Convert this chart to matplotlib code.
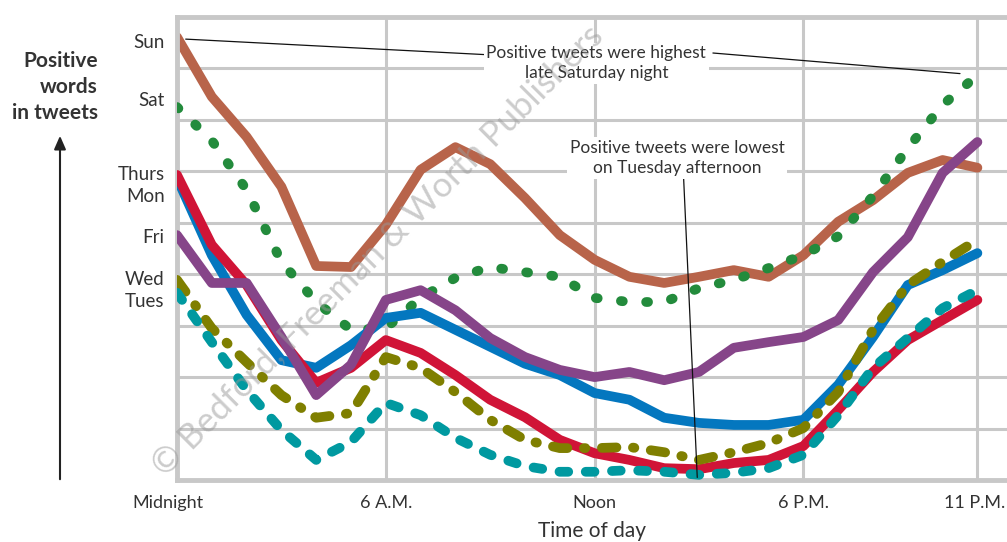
import numpy as np
import matplotlib.pyplot as plt
from matplotlib.patches import FancyArrowPatch
from matplotlib.transforms import ScaledTranslation

plt.rcParams['font.family'] = ['Lato', 'DejaVu Sans']

# hours of the day, 0 = midnight ... 23 = 11 P.M.
hours = list(range(24))

# positive-word level (grid units, 0 = bottom, 9 = top)
sun = [8.61, 7.45, 6.67, 5.70, 4.16, 4.14, 4.96, 6.03, 6.47, 6.14, 5.48, 4.76,
       4.28, 3.95, 3.83, 3.95, 4.08, 3.95, 4.37, 5.02, 5.44, 5.97, 6.22, 6.07]
sat = [7.25, 6.60, 5.64, 4.24, 3.46, 2.92, 2.95, 3.54, 3.93, 4.14, 4.04, 3.95,
       3.54, 3.46, 3.46, 3.73, 3.89, 4.12, 4.37, 4.74, 5.52, 6.45, 7.29, 7.87]
mon = [5.87, 4.37, 3.21, 2.33, 2.18, 2.62, 3.15, 3.25, 2.92, 2.59, 2.26, 2.04,
       1.69, 1.56, 1.21, 1.11, 1.07, 1.07, 1.17, 1.85, 2.78, 3.79, 4.08, 4.41]
thurs = [5.93, 4.57, 3.79, 2.72, 1.89, 2.18, 2.72, 2.47, 2.04, 1.56, 1.22, 0.78,
         0.52, 0.39, 0.23, 0.21, 0.33, 0.39, 0.66, 1.36, 2.10, 2.72, 3.11, 3.50]
fri = [4.76, 3.83, 3.83, 2.78, 1.65, 2.24, 3.50, 3.69, 3.30, 2.76, 2.39, 2.14,
       2.00, 2.10, 1.94, 2.10, 2.57, 2.68, 2.78, 3.11, 4.04, 4.72, 5.97, 6.57]
wed = [3.89, 2.95, 2.29, 1.65, 1.21, 1.30, 2.39, 2.18, 1.71, 1.17, 0.78, 0.62,
       0.62, 0.64, 0.54, 0.39, 0.54, 0.72, 1.01, 1.71, 2.92, 3.79, 4.24, 4.67]
tues = [3.64, 2.68, 1.75, 0.97, 0.39, 0.74, 1.50, 1.26, 0.82, 0.49, 0.27, 0.16,
        0.16, 0.19, 0.16, 0.10, 0.14, 0.23, 0.49, 1.26, 2.18, 2.76, 3.34, 3.69]

day_labels = ['Sun', 'Sat', 'Thurs', 'Mon', 'Fri', 'Wed', 'Tues']
day_label_pos = [8.53, 7.41, 5.97, 5.54, 4.74, 3.93, 3.50]

hour_ticks = [0, 6, 12, 18, 23]
hour_labels = ['Midnight', '6 A.M.', 'Noon', '6 P.M.', '11 P.M.']

grid_c = '#c8c8c8'
txt_c = '#333333'

fig = plt.figure(figsize=(10.07, 5.42), dpi=100)
ax = fig.add_axes([177/1007, 62/542, 830/1007, 463/542])
ax.set_xlim(0, 830/34.8)
ax.set_ylim(0, 9)

# grid
for yy in range(1, 9):
    ax.axhline(yy, color=grid_c, lw=2.2, zorder=0)
for xx in [6, 12, 18, 23]:
    ax.axvline(xx, color=grid_c, lw=2.2, zorder=0)
for s in ['left', 'top', 'bottom']:
    ax.spines[s].set_color(grid_c)
    ax.spines[s].set_linewidth(3.5)
ax.spines['right'].set_visible(False)

lw = 7
ax.plot(hours, sun, color='#b8644a', lw=lw, solid_capstyle='round', zorder=2)
ax.plot(hours, sat, color='#238b3c', lw=lw, linestyle=(0, (0.2, 2.4)),
        dash_capstyle='round', zorder=3)
ax.plot(hours, mon, color='#0477bf', lw=lw, solid_capstyle='round', zorder=4)
ax.plot(hours, thurs, color='#d01437', lw=lw, solid_capstyle='round', zorder=4)
ax.plot(hours, fri, color='#864589', lw=lw, solid_capstyle='round', zorder=5)
ax.plot(hours, wed, color='#7f7f00', lw=lw, linestyle=(0, (1.5, 1.7, 0.15, 1.7)),
        dash_capstyle='round', zorder=6)
ax.plot(hours, tues, color='#0099a0', lw=lw, linestyle=(0, (0.9, 1.8)),
        dash_capstyle='round', zorder=7)

ax.set_yticks(day_label_pos)
ax.set_yticklabels(day_labels, fontsize=13.5, color=txt_c)
ax.set_xticks(hour_ticks)
ax.set_xticklabels(hour_labels, fontsize=13, color=txt_c)
ax.tick_params(axis='x', length=0, pad=11)
ax.tick_params(axis='y', length=0, pad=9)
xls = ax.get_xticklabels()
xls[0].set_transform(xls[0].get_transform() + ScaledTranslation(-9/100, 0, fig.dpi_scale_trans))
xls[-1].set_transform(xls[-1].get_transform() + ScaledTranslation(-3/100, 0, fig.dpi_scale_trans))

ax.set_xlabel('Time of day', fontsize=15, color=txt_c, labelpad=7)

# y-axis title and arrow
fig.text(98/1007, 1 - 87/542, 'Positive\nwords\nin tweets', ha='right', va='center',
         fontsize=15, fontweight='bold', color=txt_c, linespacing=1.35)
fig.patches.append(FancyArrowPatch(
    (60/1007, 1 - 482/542), (60/1007, 1 - 133/542), transform=fig.transFigure,
    arrowstyle='-|>,head_length=8,head_width=3.5', color='#222222', lw=1.5))

# annotations
bbox = dict(boxstyle='square,pad=0.15', fc='white', ec='none')
ax.annotate('Positive tweets were highest\nlate Saturday night', xy=(0.25, 8.57),
            xytext=(12.05, 8.1), ha='center', va='center', fontsize=12.5, color=txt_c,
            bbox=bbox, linespacing=1.3, zorder=8,
            arrowprops=dict(arrowstyle='-', color='#111111', lw=0.9,
                            shrinkA=0, shrinkB=0, relpos=(0, 0.74)))
ax.annotate('', xy=(22.5, 7.9), xytext=(15.4, 8.3),
            arrowprops=dict(arrowstyle='-', color='#111111', lw=0.9, shrinkA=0, shrinkB=0))
ax.annotate('Positive tweets were lowest\non Tuesday afternoon', xy=(14.95, 0.05),
            xytext=(14.37, 6.26), ha='center', va='center', fontsize=12.5, color=txt_c,
            bbox=bbox, linespacing=1.3, zorder=8,
            arrowprops=dict(arrowstyle='-', color='#111111', lw=0.9,
                            shrinkA=0, shrinkB=0, relpos=(0.53, 0)))

# publisher watermark
fig.text(378/1007, 1 - 250/542, '© Bedford, Freeman & Worth Publishers', rotation=45,
         ha='center', va='center', fontsize=25, color='#999999', alpha=0.5, zorder=10)

fig.savefig('out.png', dpi=100)
